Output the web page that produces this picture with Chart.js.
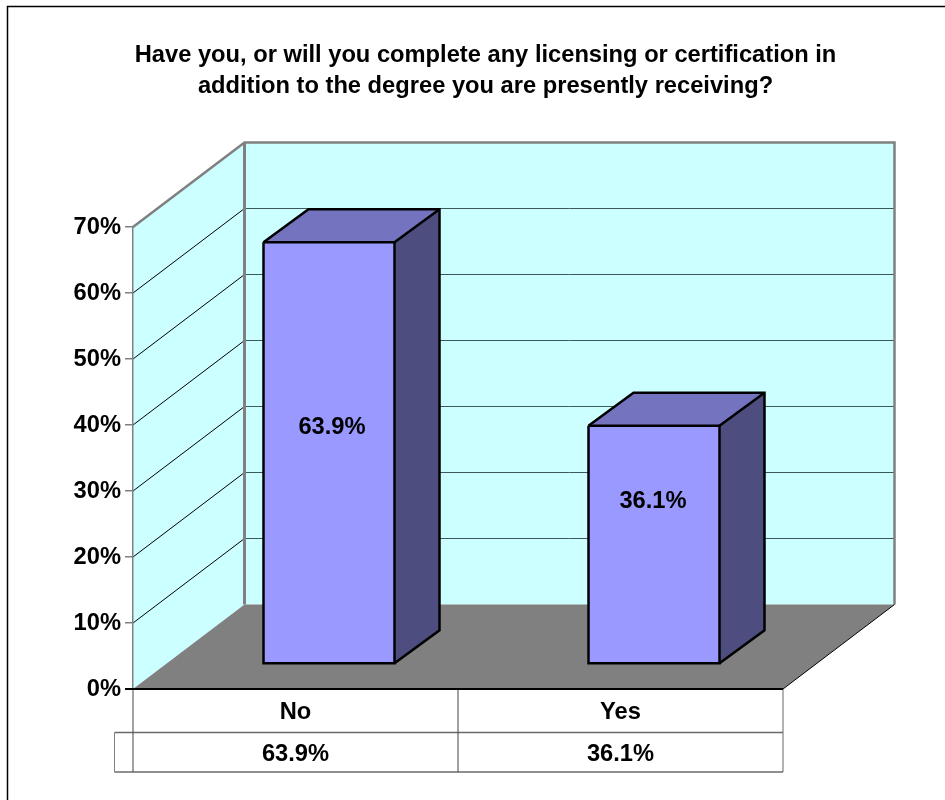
<!DOCTYPE html>
<html>
<head>
<meta charset="utf-8">
<title>Licensing or certification</title>
<script src="https://cdn.jsdelivr.net/npm/chart.js@4"></script>
<style>
    html, body { margin: 0; padding: 0; background: #fff; overflow: hidden; }
    canvas { display: block; }
</style>
</head>
<body>
<canvas id="surveyChart" width="945" height="800"></canvas>
<script>
// Chart data
const titleLines = [
    'Have you, or will you complete any licensing or certification in',
    'addition to the degree you are presently receiving?'
];
const categories = ['No', 'Yes'];
const percentValues = [63.9, 36.1];

const FONT = 'bold 23.7px "Liberation Sans", Arial, sans-serif';

// Fake 3D, all in pixels: wall depth, bar depth and where the bars stand on the floor
const wallDepth = { x: 111.5, y: -84.5 };
const barDepth = { x: 45, y: -33 };
const barOffset = { x: 33.5, y: -25 };
const labelOffsets = [{ x: 3, y: -25 }, { x: -1, y: -43 }];

function fillPoly(ctx, points, color) {
    ctx.beginPath();
    points.forEach(function (p, i) {
        if (i === 0) ctx.moveTo(p[0], p[1]);
        else ctx.lineTo(p[0], p[1]);
    });
    ctx.closePath();
    ctx.fillStyle = color;
    ctx.fill();
}

function strokeLine(ctx, points, color, width) {
    ctx.beginPath();
    points.forEach(function (p, i) {
        if (i === 0) ctx.moveTo(p[0], p[1]);
        else ctx.lineTo(p[0], p[1]);
    });
    ctx.strokeStyle = color;
    ctx.lineWidth = width;
    ctx.stroke();
}

// Walls, floor, side grid lines, frame and title
const backdropPlugin = {
    id: 'backdrop',
    beforeDraw: function (chart) {
        const ctx = chart.ctx;
        const a = chart.chartArea;
        const dx = wallDepth.x;
        const dy = wallDepth.y;
        ctx.save();

        fillPoly(ctx, [[a.left, a.top], [a.left + dx, a.top + dy], [a.left + dx, a.bottom + dy], [a.left, a.bottom]], '#CCFFFF');
        fillPoly(ctx, [[a.left + dx, a.top + dy], [a.right + dx, a.top + dy], [a.right + dx, a.bottom + dy], [a.left + dx, a.bottom + dy]], '#CCFFFF');
        fillPoly(ctx, [[a.left, a.bottom], [a.right, a.bottom], [a.right + dx, a.bottom + dy], [a.left + dx, a.bottom + dy]], '#808080');

        chart.scales.y.ticks.forEach(function (t) {
            if (t.value === 0 || t.value === chart.scales.y.max) return;
            const y = chart.scales.y.getPixelForValue(t.value);
            strokeLine(ctx, [[a.left, y], [a.left + dx, y + dy]], '#000', 1);
            strokeLine(ctx, [[a.left + dx, y + dy], [a.right + dx, y + dy]], '#3c5a5a', 1);
        });

        strokeLine(ctx, [[a.left, a.top], [a.left + dx, a.top + dy], [a.right + dx, a.top + dy], [a.right + dx, a.bottom + dy]], '#808080', 2.5);
        strokeLine(ctx, [[a.left + dx, a.top + dy], [a.left + dx, a.bottom + dy]], '#808080', 3);
        strokeLine(ctx, [[a.right, a.bottom], [a.right + dx, a.bottom + dy]], '#000', 1);

        // outer frame runs off the picture on the right and at the bottom
        ctx.strokeStyle = '#000';
        ctx.lineWidth = 1.5;
        ctx.strokeRect(7.5, 6.5, 960, 820);

        ctx.fillStyle = '#000';
        ctx.font = FONT;
        ctx.textAlign = 'center';
        ctx.textBaseline = 'middle';
        titleLines.forEach(function (line, i) {
            ctx.fillText(line, 485.5, 55 + i * 31.5);
        });
        ctx.restore();
    },
    // Side and top faces go under the front face, which is shifted back onto the floor
    beforeDatasetsDraw: function (chart) {
        const ctx = chart.ctx;
        const meta = chart.getDatasetMeta(0);
        ctx.save();
        ctx.translate(barOffset.x, barOffset.y);
        meta.data.forEach(function (bar) {
            const left = bar.x - bar.width / 2;
            const right = bar.x + bar.width / 2;
            const dx = barDepth.x;
            const dy = barDepth.y;
            const top = [[left, bar.y], [right, bar.y], [right + dx, bar.y + dy], [left + dx, bar.y + dy]];
            const side = [[right, bar.y], [right + dx, bar.y + dy], [right + dx, bar.base + dy], [right, bar.base]];
            fillPoly(ctx, top, '#7373BF');
            fillPoly(ctx, side, '#4D4D80');
        });
    },
    afterDatasetsDraw: function (chart) {
        const ctx = chart.ctx;
        const meta = chart.getDatasetMeta(0);
        meta.data.forEach(function (bar, i) {
            const left = bar.x - bar.width / 2;
            const right = bar.x + bar.width / 2;
            const dx = barDepth.x;
            const dy = barDepth.y;
            ctx.lineJoin = 'miter';
            strokeLine(ctx, [[left, bar.y], [right, bar.y], [right, bar.base], [left, bar.base], [left, bar.y]], '#000', 2.5);
            strokeLine(ctx, [[left, bar.y], [left + dx, bar.y + dy], [right + dx, bar.y + dy], [right + dx, bar.base + dy], [right, bar.base]], '#000', 2.5);
            strokeLine(ctx, [[right, bar.y], [right + dx, bar.y + dy]], '#000', 2.5);

            ctx.fillStyle = '#000';
            ctx.font = FONT;
            ctx.textAlign = 'center';
            ctx.textBaseline = 'middle';
            ctx.fillText(percentValues[i].toFixed(1) + '%', bar.x + labelOffsets[i].x, (bar.y + bar.base) / 2 + labelOffsets[i].y);
        });
        ctx.restore();
    },
    // Data table under the floor
    afterDraw: function (chart) {
        const ctx = chart.ctx;
        const a = chart.chartArea;
        const row1 = 732.5;
        const row2 = 772;
        const keyLeft = 114.5;
        const mid = (a.left + a.right) / 2;
        ctx.save();
        strokeLine(ctx, [[keyLeft, row1], [a.right, row1]], '#6a6a6a', 1.5);
        strokeLine(ctx, [[keyLeft, row2], [a.right, row2]], '#6a6a6a', 1.5);
        strokeLine(ctx, [[keyLeft, row1], [keyLeft, row2]], '#808080', 1);
        strokeLine(ctx, [[a.left, a.bottom], [a.left, row2]], '#444', 1);
        strokeLine(ctx, [[mid, a.bottom], [mid, row2]], '#444', 1);
        strokeLine(ctx, [[a.right, a.bottom], [a.right, row2]], '#666', 1);
        strokeLine(ctx, [[a.left - 8, a.bottom], [a.right, a.bottom]], '#000', 2);

        ctx.fillStyle = '#000';
        ctx.font = FONT;
        ctx.textAlign = 'center';
        ctx.textBaseline = 'middle';
        percentValues.forEach(function (v, i) {
            ctx.fillText(v.toFixed(1) + '%', chart.scales.x.getPixelForValue(i), 754);
        });
        ctx.restore();
    }
};

new Chart(document.getElementById('surveyChart'), {
    type: 'bar',
    data: {
        labels: categories,
        datasets: [{
            data: percentValues,
            backgroundColor: '#9999FF',
            borderWidth: 0,
            categoryPercentage: 1,
            barPercentage: 131 / 325
        }]
    },
    options: {
        responsive: false,
        animation: false,
        layout: {
            autoPadding: false,
            padding: { left: 0, right: 162, top: 227, bottom: 0 }
        },
        plugins: {
            legend: { display: false },
            title: { display: false },
            tooltip: { enabled: false }
        },
        scales: {
            y: {
                min: 0,
                max: 70,
                afterFit: function (scale) { scale.width = 133; },
                ticks: {
                    stepSize: 10,
                    color: '#000',
                    padding: 4,
                    font: { family: '"Liberation Sans", Arial, sans-serif', size: 23.7, weight: 'bold' },
                    callback: function (v) { return v + '%'; }
                },
                grid: { drawOnChartArea: false, drawTicks: true, tickLength: 8, color: '#808080', lineWidth: 1.5 },
                border: { display: true, color: '#808080', width: 1.5 }
            },
            x: {
                afterFit: function (scale) { scale.height = 111; },
                ticks: {
                    color: '#000',
                    padding: 1,
                    maxRotation: 0,
                    font: { family: '"Liberation Sans", Arial, sans-serif', size: 23.7, weight: 'bold' }
                },
                grid: { display: false },
                border: { display: false }
            }
        }
    },
    plugins: [backdropPlugin]
});
</script>
</body>
</html>
